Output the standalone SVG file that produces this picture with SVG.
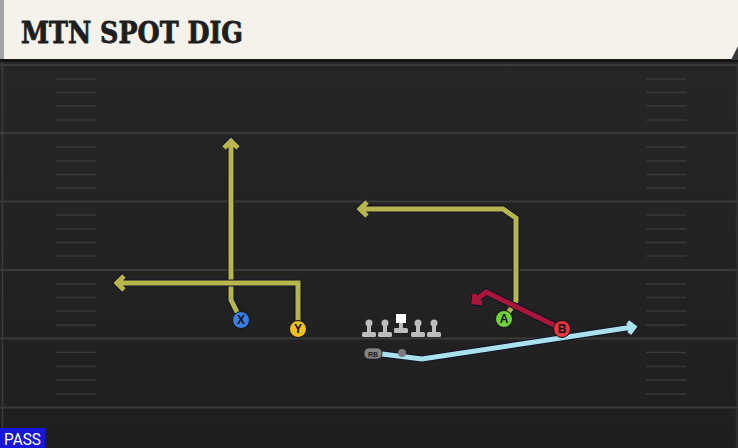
<svg xmlns="http://www.w3.org/2000/svg" width="738" height="448" viewBox="0 0 738 448">
<defs>
<linearGradient id="fg" x1="0" y1="0" x2="0" y2="1">
<stop offset="0" stop-color="#272727"/>
<stop offset="1" stop-color="#1f1f1f"/>
</linearGradient>
<g id="tee">
<circle cx="0" cy="0" r="3.5"/>
<rect x="-2" y="0" width="4" height="10"/>
<rect x="-7" y="9" width="14" height="5" rx="1.5"/>
</g>
</defs>
<style>
.yl{stroke:#3a3a3a;stroke-width:2}
.hm{stroke:#383838;stroke-width:1.5}
.o{fill:none;stroke:#12122a;stroke-width:7;stroke-linejoin:miter;stroke-linecap:butt}
.r{fill:none;stroke-width:5;stroke-linejoin:miter;stroke-linecap:butt}
.ol{stroke:#b6b64c}
.rd{stroke:#aa163a}
.bl{stroke:#a9e2ee}
.p{stroke:#111;stroke-width:1}
.pl{font-family:"Liberation Sans",Arial,sans-serif;font-weight:bold;font-size:12px;fill:#111;text-anchor:middle}
.tee{fill:#bdbdbd}
</style>
<rect x="0" y="0" width="738" height="448" fill="url(#fg)"/>
<g id="field">
<line x1="0" y1="65" x2="738" y2="65" class="yl"/>
<line x1="0" y1="133" x2="738" y2="133" class="yl"/>
<line x1="0" y1="201.5" x2="738" y2="201.5" class="yl"/>
<line x1="0" y1="270" x2="738" y2="270" class="yl"/>
<line x1="0" y1="338.5" x2="738" y2="338.5" class="yl"/>
<line x1="0" y1="407.5" x2="738" y2="407.5" class="yl"/>
<path class="hm" d="M56,79H96M56,92.5H96M56,106H96M56,120H96M56,147H96M56,161H96M56,174.5H96M56,188H96M56,215H96M56,229H96M56,242.5H96M56,256H96M56,284H96M56,297.5H96M56,311H96M56,325H96M56,352.5H96M56,366.5H96M56,380H96M56,394H96"/>
<path class="hm" d="M646,79H686M646,92.5H686M646,106H686M646,120H686M646,147H686M646,161H686M646,174.5H686M646,188H686M646,215H686M646,229H686M646,242.5H686M646,256H686M646,284H686M646,297.5H686M646,311H686M646,325H686M646,352.5H686M646,366.5H686M646,380H686M646,394H686"/>
<line x1="2.5" y1="60" x2="2.5" y2="448" stroke="#3c3c3c" stroke-width="1.5"/>
<line x1="736.5" y1="60" x2="736.5" y2="448" stroke="#333" stroke-width="1.5"/>
</g>
<g id="header">
<rect x="0" y="57" width="738" height="5" fill="#141414"/>
<rect x="0" y="0" width="738" height="59" fill="#f4f2eb"/>
<rect x="0" y="0" width="4" height="59" fill="#a3a3a3"/>
<polygon points="738,46 738,60 731,60" fill="#3a3a3a"/>
<text x="21" y="43" font-family="'DejaVu Serif',serif" font-weight="bold" font-size="29" fill="#1e1e1e" stroke="#1e1e1e" stroke-width="0.8" textLength="222" lengthAdjust="spacingAndGlyphs">MTN SPOT DIG</text>
</g>
<g id="connectors">
<path class="o" d="M241,320L231,300L231,142M224,148L231,141L238,148"/>
<path class="r ol" d="M241,320L231,300L231,142M224,148L231,141L238,148"/>
<path class="o" d="M298,329L298,283L118,283M124,276L117,283L124,290"/>
<path class="r ol" d="M298,329L298,283L118,283M124,276L117,283L124,290"/>
<path class="o" d="M504,319L516,301L516,218L503,209L360,209M367,202L360,209L367,216"/>
<path class="r ol" d="M504,319L516,301L516,218L503,209L360,209M367,202L360,209L367,216"/>
<path class="o" d="M562,329L486,292L475,301M482,302.7L474,302L474.7,294"/>
<path class="r rd" d="M562,329L486,292L475,301M482,302.7L474,302L474.7,294"/>
<path class="o" d="M382,354L422,359L633,327M627.6,322.2L634,327L629.2,333.4"/>
<path class="r bl" d="M382,354L422,359L633,327M627.6,322.2L634,327L629.2,333.4"/>
</g>
<g id="line">
<use href="#tee" x="369" y="323" class="tee"/>
<use href="#tee" x="385" y="323" class="tee"/>
<use href="#tee" x="418" y="323" class="tee"/>
<use href="#tee" x="434" y="323" class="tee"/>
<g id="center">
<rect x="399" y="322" width="4" height="7" fill="#bdbdbd"/>
<rect x="394" y="328" width="14" height="5" rx="1.5" fill="#bdbdbd"/>
<rect x="396" y="314" width="10" height="9" fill="#ffffff"/>
</g>
</g>
<g id="qb"><circle cx="402" cy="353" r="4" fill="#7a7a7a"/></g>
<g id="rb">
<rect x="364" y="348" width="18" height="11" rx="5" fill="#858585" stroke="#222" stroke-width="0.8"/>
<text x="373" y="356.5" font-family="'Liberation Sans',Arial,sans-serif" font-size="7" font-weight="bold" fill="#222" text-anchor="middle">RB</text>
</g>
<g id="X"><circle cx="241" cy="320" r="8.5" fill="#3a7ee0" class="p"/><text x="241" y="324.3" class="pl">X</text></g>
<g id="Y"><circle cx="298" cy="329" r="8.5" fill="#f2c21c" class="p"/><text x="298" y="333.3" class="pl">Y</text></g>
<g id="A"><circle cx="504" cy="319" r="8.5" fill="#6fd43c" class="p"/><text x="504" y="323.3" class="pl">A</text></g>
<g id="B"><circle cx="562" cy="329" r="8.5" fill="#e8343c" class="p"/><text x="562" y="333.3" class="pl">B</text></g>
<g id="pass">
<rect x="0" y="428" width="45" height="20" fill="#1717d8"/>
<text x="4" y="445" font-family="Roboto,'Liberation Sans',sans-serif" font-size="16.5" fill="#ffffff" textLength="37" lengthAdjust="spacingAndGlyphs">PASS</text>
</g>
</svg>
